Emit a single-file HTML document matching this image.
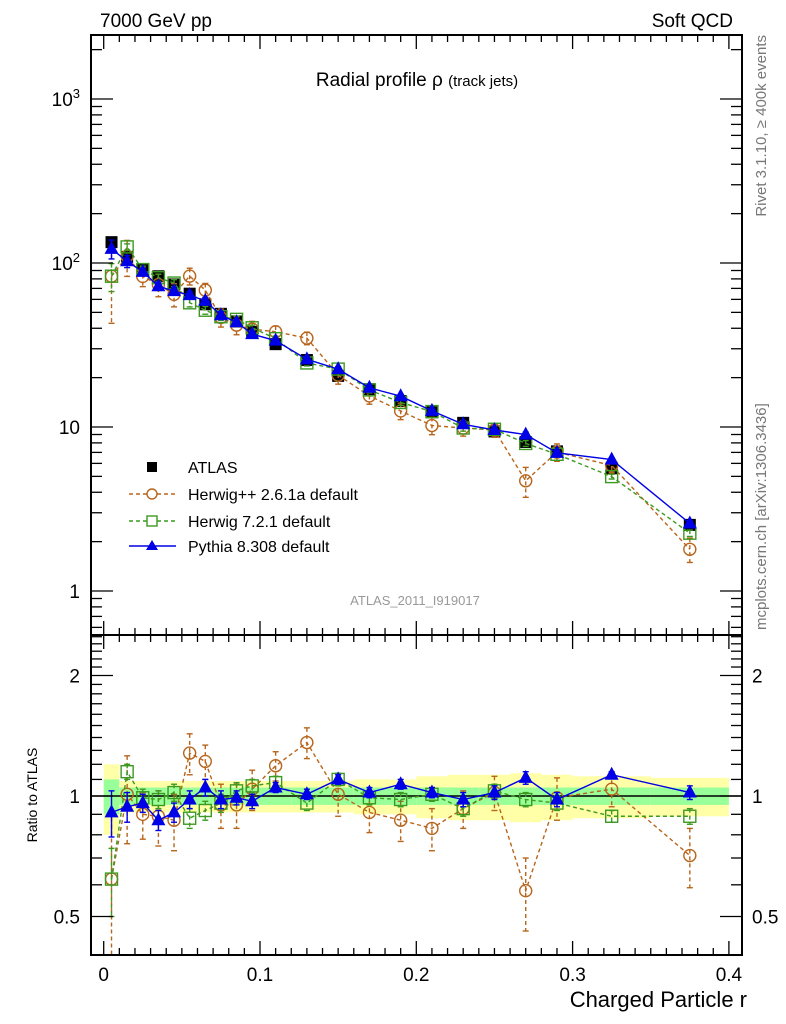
<!DOCTYPE html>
<html><head><meta charset="utf-8">
<style>
html,body{margin:0;padding:0;background:#fff;}
svg{display:block;font-family:"Liberation Sans",sans-serif;}
</style></head>
<body>
<svg id="chart" width="786" height="1024" viewBox="0 0 786 1024" xmlns="http://www.w3.org/2000/svg">
<text x="100" y="27" font-size="19">7000 GeV pp</text>
<text x="733" y="27" font-size="19" text-anchor="end">Soft QCD</text>
<text x="417" y="86" font-size="19" text-anchor="middle">Radial profile ρ <tspan font-size="15">(track jets)</tspan></text>
<text x="415" y="605" font-size="13" fill="#999" text-anchor="middle">ATLAS_2011_I919017</text>
<text transform="translate(766,35) rotate(-90)" font-size="15" fill="#777" text-anchor="end">Rivet 3.1.10, ≥ 400k events</text>
<text transform="translate(766,630) rotate(-90)" font-size="15" fill="#777" text-anchor="start">mcplots.cern.ch [arXiv:1306.3436]</text>
<text transform="translate(37,795) rotate(-90)" font-size="14" text-anchor="middle">Ratio to ATLAS</text>
<text x="747" y="1007" font-size="22" text-anchor="end">Charged Particle r</text>
<g id="bands"></g><g id="plots"></g><g id="axes"></g><g id="legend"></g>
</svg>
<script>
const xs = [0.005,0.015,0.025,0.035,0.045,0.055,0.065,0.075,0.085,0.095,0.11,0.13,0.15,0.17,0.19,0.21,0.23,0.25,0.27,0.29,0.325,0.375];
const xlo = [0,0.01,0.02,0.03,0.04,0.05,0.06,0.07,0.08,0.09,0.10,0.12,0.14,0.16,0.18,0.20,0.22,0.24,0.26,0.28,0.30,0.35];
const xhi = [0.01,0.02,0.03,0.04,0.05,0.06,0.07,0.08,0.09,0.10,0.12,0.14,0.16,0.18,0.20,0.22,0.24,0.26,0.28,0.30,0.35,0.40];
const atlas = [134,109,92,83,74,65,56,49,44,38,32,25.6,20.5,17,14.4,12.3,10.6,9.4,8.1,7.1,5.6,2.53];
const bandYellow = [0.2,0.09,0.09,0.09,0.09,0.09,0.09,0.09,0.09,0.09,0.09,0.09,0.09,0.1,0.1,0.12,0.13,0.13,0.14,0.13,0.12,0.11];
const bandGreen = [0.1,0.05,0.05,0.05,0.05,0.05,0.05,0.05,0.05,0.05,0.05,0.05,0.05,0.05,0.05,0.05,0.05,0.05,0.05,0.05,0.05,0.05];
const hppRatio = [0.62,1.01,0.90,0.89,0.87,1.28,1.22,0.95,0.95,1.04,1.19,1.36,1.01,0.91,0.87,0.83,0.93,1.02,0.58,0.99,1.04,0.71];
const hppErr = [0.3,0.25,0.12,0.14,0.14,0.15,0.12,0.12,0.12,0.12,0.1,0.12,0.12,0.1,0.1,0.1,0.1,0.1,0.12,0.12,0.1,0.12];
const h7Ratio = [0.62,1.15,0.99,0.98,1.02,0.88,0.92,0.96,1.03,1.06,1.08,0.96,1.10,0.99,0.98,1.01,0.93,1.03,0.98,0.96,0.89,0.89];
const h7Err = [0.12,0.05,0.05,0.05,0.05,0.05,0.05,0.05,0.05,0.04,0.04,0.04,0.04,0.04,0.04,0.04,0.04,0.04,0.04,0.04,0.03,0.04];
const pyRatio = [0.91,0.94,0.96,0.87,0.91,0.98,1.05,0.98,0.99,0.97,1.05,1.01,1.10,1.02,1.07,1.02,0.98,1.02,1.11,0.98,1.13,1.02];
const pyErr = [0.12,0.08,0.05,0.05,0.05,0.05,0.05,0.05,0.04,0.04,0.03,0.03,0.03,0.03,0.03,0.03,0.04,0.04,0.04,0.04,0.02,0.04];
const atlasErr = [0.03,0.03,0.03,0.03,0.03,0.03,0.03,0.03,0.03,0.03,0.03,0.03,0.04,0.04,0.04,0.04,0.05,0.05,0.05,0.05,0.05,0.05];
const mainTicks = [1,10,100,1000];
const mainTickLabels = ["1","10","10","10"];
const ratioTicks = [0.5,1,2];
const ratioTickLabels = ["0.5","1","2"];
const xTicks = [0,0.1,0.2,0.3,0.4];
const xTickLabels = ["0","0.1","0.2","0.3","0.4"];

const NS="http://www.w3.org/2000/svg";
const L=91,R=742,T=35,MB=635,RB=955;
const X=v=>103.7+v*1563;
const YM=v=>591-Math.log10(v)*164;
const YR=v=>796-Math.log2(v)*120.5;
function mk(tag,attrs,parent){const e=document.createElementNS(NS,tag);for(const k in attrs)e.setAttribute(k,attrs[k]);parent.appendChild(e);return e;}
const bands=document.getElementById('bands'),plots=document.getElementById('plots'),axes=document.getElementById('axes'),legend=document.getElementById('legend');

xs.forEach((x,i)=>{
  let r=mk('rect',{x:X(xlo[i]),y:YR(1+bandYellow[i]),width:X(xhi[i])-X(xlo[i]),height:YR(1-bandYellow[i])-YR(1+bandYellow[i]),fill:'#ffff99',opacity:0.85},bands);
  
  
  let g=mk('rect',{x:X(xlo[i]),y:YR(1+bandGreen[i]),width:X(xhi[i])-X(xlo[i]),height:YR(1-bandGreen[i])-YR(1+bandGreen[i]),fill:'#99ff99'},bands);
  
  
});
let one=mk('line',{x1:L,x2:R,y1:YR(1),y2:YR(1),stroke:'#000','stroke-width':1.5},bands);



function clip(y,top,bot){return Math.max(top,Math.min(bot,y));}
function series(name,ratio,err,color,dash,marker){
  const panels=ratio?[['main',YM,T,MB],['ratio',YR,MB,RB]]:[['main',YM,T,MB]];
  panels.forEach(([pan,Y,top,bot])=>{
    const g=mk('g',{},plots);
    
    
    const val=i=>pan==='main'?(ratio?atlas[i]*ratio[i]:atlas[i]):ratio[i];
    const e=i=>pan==='main'?atlas[i]*err[i]:err[i];
    if(ratio){
      let d=xs.map((x,i)=>(i?'L':'M')+X(x)+','+clip(Y(val(i)),top,bot)).join(' ');
      const p=mk('path',{d:d,fill:'none',stroke:color,'stroke-width':1.4,'stroke-dasharray':dash||'none'},g);
      
      
    }
    xs.forEach((x,i)=>{
      const v=val(i),cx=X(x);
      const y1=clip(Y(v+e(i)),top,bot),y2=clip(Y(Math.max(v-e(i),0.01)),top,bot);
      mk('line',{x1:cx,x2:cx,y1:y1,y2:y2,stroke:color,'stroke-width':1.4,'stroke-dasharray':dash||'none'},g);
      mk('line',{x1:cx-3,x2:cx+3,y1:y1,y2:y1,stroke:color,'stroke-width':1.4},g);
      mk('line',{x1:cx-3,x2:cx+3,y1:y2,y2:y2,stroke:color,'stroke-width':1.4},g);
      const cy=Y(v); if(cy<top||cy>bot) return;
      let m;
      if(marker==='sq') m=mk('rect',{x:cx-6,y:cy-6,width:12,height:12,fill:'#000'},g);
      else if(marker==='circ') m=mk('circle',{cx:cx,cy:cy,r:6,fill:'none',stroke:color,'stroke-width':1.4},g);
      else if(marker==='osq') m=mk('rect',{x:cx-6,y:cy-6,width:12,height:12,fill:'none',stroke:color,'stroke-width':1.4},g);
      else m=mk('path',{d:`M${cx},${cy-8}L${cx+7},${cy+5}L${cx-7},${cy+5}Z`,fill:color},g);
      
      
    });
  });
}
series('atlas-data',null,atlasErr,'#000',null,'sq');
series('herwigpp',hppRatio,hppErr,'#b8651c','4,3','circ');
series('herwig7',h7Ratio,h7Err,'#3c9a20','4,3','osq');
series('pythia8',pyRatio,pyErr,'#0000e6',null,'tri');

[[T,MB],[MB,RB]].forEach(([t,b],k)=>{
  const f=mk('rect',{x:L,y:t,width:R-L,height:b-t,fill:'none',stroke:'#000','stroke-width':2},axes);
  
  
});
for(let v=0;v<=0.4001;v+=0.01){
  const major=Math.abs(v*10-Math.round(v*10))<1e-6, len=major?14:7, x=X(v);
  [[MB,-1],[RB,-1],[T,1],[MB,1]].forEach(([y,dir])=>mk('line',{x1:x,x2:x,y1:y,y2:y+dir*len,stroke:'#000','stroke-width':1.3},axes));
}
xTicks.forEach((v,i)=>{
  const t=mk('text',{x:X(v),y:981,'font-size':19,'text-anchor':'middle'},axes);
  t.textContent=xTickLabels[i];
  
  
});
for(let d=-1;d<=3;d++){for(let m=1;m<10;m++){
  const v=m*Math.pow(10,d),y=YM(v); if(y<T||y>MB) continue;
  const len=m===1?22:11;
  mk('line',{x1:L,x2:L+len,y1:y,y2:y,stroke:'#000','stroke-width':1.3},axes);
  mk('line',{x1:R,x2:R-len,y1:y,y2:y,stroke:'#000','stroke-width':1.3},axes);
}}
mainTicks.forEach((v,i)=>{
  const t=mk('text',{x:80,y:YM(v)+7,'font-size':19,'text-anchor':'end'},axes);
  t.textContent=mainTickLabels[i];
  if(v>=100){const s=mk('tspan',{dy:-8,'font-size':13},t);s.textContent=v===100?'2':'3';}
  
  
});
for(let v=0.4;v<=2.5001;v+=0.1){
  const y=YR(v); if(y<MB||y>RB) continue;
  const maj=[0.5,1,2].some(q=>Math.abs(q-v)<1e-6), len=maj?22:11;
  mk('line',{x1:L,x2:L+len,y1:y,y2:y,stroke:'#000','stroke-width':1.3},axes);
  mk('line',{x1:R,x2:R-len,y1:y,y2:y,stroke:'#000','stroke-width':1.3},axes);
}
ratioTicks.forEach((v,i)=>{
  [[80,'end'],[752,'start']].forEach(([x,a])=>{
    const t=mk('text',{x:x,y:YR(v)+7,'font-size':19,'text-anchor':a},axes);
    t.textContent=ratioTickLabels[i];
    
    
  });
});
const legNames=['ATLAS','Herwig++ 2.6.1a default','Herwig 7.2.1 default','Pythia 8.308 default'];
const legColors=['#000','#b8651c','#3c9a20','#0000e6'];
const legDash=[null,'4,3','4,3',null];
const legMark=['sq','circ','osq','tri'];
const legY=[467,494,521,546];
legNames.forEach((n,i)=>{
  const g=mk('g',{},legend);
  
  
  const y=legY[i],cx=152,c=legColors[i];
  if(i>0) mk('line',{x1:129,x2:176,y1:y,y2:y,stroke:c,'stroke-width':1.4,'stroke-dasharray':legDash[i]||'none'},g);
  if(legMark[i]==='sq') mk('rect',{x:cx-5,y:y-5,width:10,height:10,fill:'#000'},g);
  else if(legMark[i]==='circ') mk('circle',{cx:cx,cy:y,r:5,fill:'#fff',stroke:c,'stroke-width':1.4},g);
  else if(legMark[i]==='osq') mk('rect',{x:cx-5,y:y-5,width:10,height:10,fill:'#fff',stroke:c,'stroke-width':1.4},g);
  else mk('path',{d:`M${cx},${y-6}L${cx+6},${y+4}L${cx-6},${y+4}Z`,fill:c},g);
  const t=mk('text',{x:188,y:y+6,'font-size':16},g);
  t.textContent=n;
});
</script>
</body></html>
